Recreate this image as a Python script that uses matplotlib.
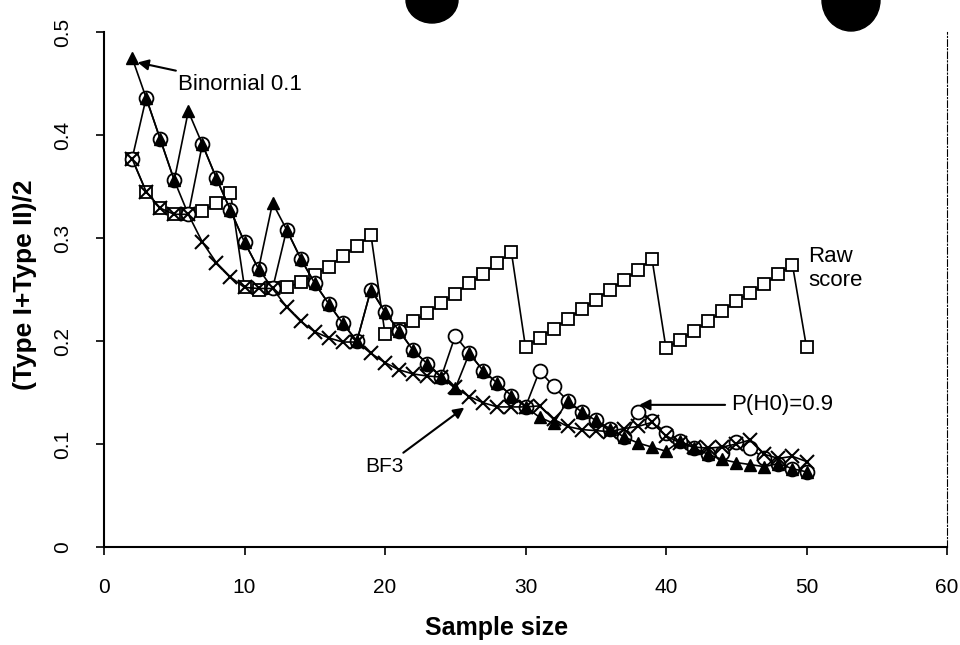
import matplotlib
matplotlib.use("Agg")
import matplotlib.pyplot as plt
from matplotlib.patches import Ellipse

plt.rcParams['font.family'] = ['Liberation Sans', 'DejaVu Sans']

# ---------------- data ----------------
sample_size = list(range(2, 51))

binomial_01 = [0.475, 0.436, 0.396, 0.356, 0.423, 0.391, 0.358, 0.327, 0.296, 0.270,
               0.334, 0.308, 0.280, 0.256, 0.236, 0.217, 0.200, 0.250, 0.228, 0.210,
               0.191, 0.178, 0.165, 0.154, 0.188, 0.171, 0.159, 0.147, 0.136, 0.126,
               0.120, 0.142, 0.131, 0.123, 0.115, 0.107, 0.101, 0.097, 0.093, 0.103,
               0.096, 0.090, 0.085, 0.082, 0.080, 0.078, 0.081, 0.076, 0.073]

p_h0_09 = [0.377, 0.436, 0.396, 0.356, 0.323, 0.391, 0.358, 0.327, 0.296, 0.270,
           0.251, 0.308, 0.280, 0.256, 0.236, 0.217, 0.200, 0.250, 0.228, 0.210,
           0.191, 0.178, 0.165, 0.205, 0.188, 0.171, 0.159, 0.147, 0.136, 0.171,
           0.156, 0.142, 0.131, 0.123, 0.115, 0.107, 0.131, 0.122, 0.111, 0.103,
           0.096, 0.090, 0.091, 0.102, 0.096, 0.086, 0.081, 0.076, 0.073]

raw_score = [0.377, 0.345, 0.329, 0.323, 0.323, 0.326, 0.334, 0.344, 0.252, 0.250,
             0.251, 0.252, 0.257, 0.264, 0.272, 0.283, 0.292, 0.303, 0.207, 0.212,
             0.219, 0.227, 0.237, 0.246, 0.256, 0.265, 0.276, 0.286, 0.194, 0.203,
             0.212, 0.221, 0.231, 0.240, 0.250, 0.259, 0.269, 0.280, 0.193, 0.201,
             0.210, 0.219, 0.229, 0.239, 0.247, 0.255, 0.265, 0.274, 0.194]

bf3 = [0.377, 0.345, 0.329, 0.323, 0.323, 0.296, 0.276, 0.262, 0.252, 0.251,
       0.251, 0.233, 0.219, 0.209, 0.203, 0.199, 0.199, 0.188, 0.179, 0.172,
       0.168, 0.166, 0.165, 0.155, 0.146, 0.140, 0.136, 0.136, 0.136, 0.137,
       0.124, 0.117, 0.114, 0.113, 0.112, 0.115, 0.117, 0.121, 0.108, 0.101,
       0.097, 0.096, 0.097, 0.100, 0.104, 0.090, 0.086, 0.088, 0.083]

x_ticks = [0, 10, 20, 30, 40, 50, 60]
y_ticks = [0, 0.1, 0.2, 0.3, 0.4, 0.5]
y_tick_labels = ["0", "0.1", "0.2", "0.3", "0.4", "0.5"]

# ---------------- figure ----------------
fig = plt.figure(figsize=(9.6, 6.45), dpi=100)
ax = fig.add_axes([104 / 960, 1 - 547 / 645, (947 - 104) / 960, (547 - 32) / 645])

lw = 1.2
ax.plot(sample_size, raw_score, color='black', lw=lw, marker='s', ms=9,
        mfc='white', mec='black', mew=1.3, zorder=2)
ax.plot(sample_size, p_h0_09, color='black', lw=lw, marker='o', ms=10,
        mfc='white', mec='black', mew=1.3, zorder=3)
ax.plot(sample_size, binomial_01, color='black', lw=lw, marker='^', ms=8.5,
        mfc='black', mec='black', zorder=4)
ax.plot(sample_size, bf3, color='black', lw=lw, marker='x', ms=9.5,
        mec='black', mew=1.5, zorder=5)

ax.set_xlim(0, 60)
ax.set_ylim(0, 0.5)
ax.set_xticks(x_ticks)
ax.set_xticklabels([str(t) for t in x_ticks], fontsize=15)
ax.set_yticks(y_ticks)
ax.set_yticklabels(y_tick_labels, fontsize=15, rotation=90, va='center')
ax.tick_params(direction='out', length=6, width=1.2)
ax.tick_params(axis='x', pad=16)
ax.tick_params(axis='y', pad=17)

for s in ['left', 'bottom']:
    ax.spines[s].set_linewidth(1.5)
ax.spines['right'].set_linestyle((0, (6, 2, 1, 2)))
ax.spines['right'].set_linewidth(0.8)
ax.spines['top'].set_visible(False)

ax.set_xlabel('Sample size', fontsize=18, fontweight='bold')
ax.xaxis.set_label_coords(0.466, -0.134)
ax.set_ylabel('(Type I+Type II)/2', fontsize=19, fontweight='bold')
ax.yaxis.set_label_coords(-0.08, 0.51)

arrow = dict(arrowstyle='-|>', color='black', lw=1.5, mutation_scale=16)
ax.annotate('Binornial 0.1', xy=(2.2, 0.471), xytext=(5.3, 0.449),
            fontsize=16, va='center', ha='left', arrowprops=arrow)
ax.text(50.1, 0.27, 'Raw\nscore', fontsize=16, va='center', ha='left',
        linespacing=1.2)
ax.annotate('P(H0)=0.9', xy=(37.9, 0.138), xytext=(44.6, 0.138),
            fontsize=16, va='center', ha='left', arrowprops=arrow)
ax.annotate('BF3', xy=(25.8, 0.137), xytext=(18.6, 0.078),
            fontsize=15, va='center', ha='left', arrowprops=arrow)

# scan artifacts: punch holes at the top edge
fig.patches.append(Ellipse((432 / 960, 1.0), 52 / 960, 46 / 645,
                           transform=fig.transFigure, color='black', zorder=10))
fig.patches.append(Ellipse((851 / 960, 1.0), 58 / 960, 62 / 645,
                           transform=fig.transFigure, color='black', zorder=10))

fig.savefig('out.png', dpi=100)
